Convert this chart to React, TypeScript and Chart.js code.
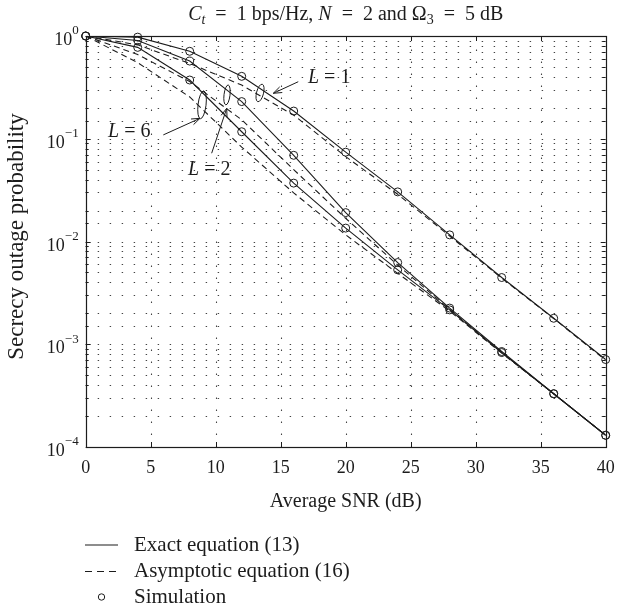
import React, { useEffect, useRef } from "react";
import { Chart, registerables } from "chart.js";

Chart.register(...registerables);

// ---------- data ----------
const snrDb = [0, 4, 8, 12, 16, 20, 24, 28, 32, 36, 40];

const exactL1 = [1.0, 0.975, 0.71, 0.405, 0.186, 0.074, 0.0304, 0.0116, 0.00446, 0.00179, 0.00071];
const exactL2 = [1.0, 0.905, 0.57, 0.23, 0.069, 0.0191, 0.00624, 0.00225, 0.00085, 0.00033, 0.00013];
const exactL6 = [1.0, 0.775, 0.373, 0.117, 0.037, 0.0135, 0.0053, 0.00216, 0.00083, 0.00033, 0.00013];

const asymL1 = [1.0, 0.82, 0.54, 0.333, 0.17, 0.067, 0.0288, 0.0113, 0.0044, 0.00178, 0.0007];
const asymL2 = [1.0, 0.66, 0.36, 0.153, 0.05, 0.0168, 0.0059, 0.00218, 0.00083, 0.00033, 0.00013];
const asymL6 = [1.0, 0.55, 0.255, 0.083, 0.0297, 0.0116, 0.0049, 0.0021, 0.00082, 0.00033, 0.00013];

const simL1 = [1.0, 0.975, 0.71, 0.405, 0.186, 0.074, 0.0304, 0.0116, 0.00446, 0.00179, 0.00071];
const simL2 = [1.0, 0.905, 0.57, 0.23, 0.069, 0.0191, 0.00624, 0.00225, 0.00085, 0.00033, 0.00013];
const simL6 = [1.0, 0.775, 0.373, 0.117, 0.037, 0.0135, 0.0053, 0.00216, 0.00083, 0.00033, 0.00013];

const xTickValues = [0, 5, 10, 15, 20, 25, 30, 35, 40];
const xTickLabels = ["0", "5", "10", "15", "20", "25", "30", "35", "40"];
const yTickExponents = [0, -1, -2, -3, -4];

const legendLabels = ["Exact equation (13)", "Asymptotic equation (16)", "Simulation"];
const xTitle = "Average SNR (dB)";
const yTitle = "Secrecy outage probability";

// annotation labels (data coordinates)
const curveLabels = [
  { text: "1", x: 17.1, y: 0.39, arrowFrom: [16.35, 0.359], arrowTo: [14.43, 0.277], ell: [13.41, 0.279] },
  { text: "6", x: 1.72, y: 0.117, arrowFrom: [5.97, 0.109], arrowTo: [8.79, 0.158], ell: [8.95, 0.214] },
  { text: "2", x: 7.87, y: 0.0497, arrowFrom: [9.69, 0.0723], arrowTo: [10.85, 0.198], ell: [10.87, 0.267] },
];

const FONT = '"Liberation Serif", "Times New Roman", serif';
const INK = "#1c1c1c";

function toXY(xs: number[], ys: number[]) {
  return xs.map((x, i) => ({ x, y: ys[i] }));
}

function isDecade(v: number) {
  const l = Math.log10(v);
  return Math.abs(l - Math.round(l)) < 1e-6;
}

const customPlugin = {
  id: "customDraw",
  beforeDatasetsDraw(chart: any) {
    const { ctx, chartArea: a, scales } = chart;
    const x = scales.x;
    const y = scales.y;
    ctx.save();
    ctx.strokeStyle = "#444";
    ctx.lineWidth = 1.1;
    ctx.setLineDash([1.4, 10.6]);
    for (const t of y.ticks) {
      const py = Math.round(y.getPixelForValue(t.value)) + 0.5;
      if (py <= a.top + 1.5 || py >= a.bottom - 1.5) continue;
      ctx.beginPath();
      ctx.moveTo(a.left, py);
      ctx.lineTo(a.right, py);
      ctx.stroke();
    }
    for (const v of xTickValues) {
      const px = Math.round(x.getPixelForValue(v)) + 0.5;
      if (px <= a.left + 1.5 || px >= a.right - 1.5) continue;
      ctx.beginPath();
      ctx.moveTo(px, a.bottom);
      ctx.lineTo(px, a.top);
      ctx.stroke();
    }
    ctx.restore();
  },
  afterDatasetsDraw(chart: any) {
    const { ctx, chartArea: a, scales } = chart;
    const x = scales.x;
    const y = scales.y;
    ctx.save();
    ctx.setLineDash([]);
    ctx.strokeStyle = INK;
    ctx.fillStyle = INK;

    // axis box
    ctx.lineWidth = 1.2;
    ctx.strokeRect(Math.round(a.left) + 0.5, Math.round(a.top) + 0.5, Math.round(a.right - a.left), Math.round(a.bottom - a.top));

    // inward ticks
    ctx.lineWidth = 1;
    for (const v of xTickValues) {
      const px = Math.round(x.getPixelForValue(v)) + 0.5;
      ctx.beginPath();
      ctx.moveTo(px, a.bottom);
      ctx.lineTo(px, a.bottom - 5);
      ctx.moveTo(px, a.top);
      ctx.lineTo(px, a.top + 5);
      ctx.stroke();
    }
    for (const t of y.ticks) {
      const py = Math.round(y.getPixelForValue(t.value)) + 0.5;
      const len = isDecade(t.value) ? 5 : 3;
      ctx.beginPath();
      ctx.moveTo(a.left, py);
      ctx.lineTo(a.left + len, py);
      ctx.moveTo(a.right, py);
      ctx.lineTo(a.right - len, py);
      ctx.stroke();
    }

    // x tick labels
    ctx.font = `18px ${FONT}`;
    ctx.textAlign = "center";
    ctx.textBaseline = "middle";
    xTickValues.forEach((v, i) => {
      ctx.fillText(xTickLabels[i], x.getPixelForValue(v), a.bottom + 21);
    });

    // y tick labels 10^k
    yTickExponents.forEach((e) => {
      const py = y.getPixelForValue(Math.pow(10, e));
      const expStr = e < 0 ? "\u2212" + String(-e) : String(e);
      ctx.font = `13px ${FONT}`;
      const ew = ctx.measureText(expStr).width;
      ctx.font = `18px ${FONT}`;
      const bw = ctx.measureText("10").width;
      const right = a.left - 7;
      ctx.textAlign = "left";
      ctx.textBaseline = "middle";
      ctx.fillText("10", right - ew - bw, py + 4.5);
      ctx.font = `13px ${FONT}`;
      ctx.fillText(expStr, right - ew, py - 5);
    });

    // axis titles
    ctx.font = `20px ${FONT}`;
    ctx.textAlign = "center";
    ctx.textBaseline = "middle";
    ctx.fillText(xTitle, (a.left + a.right) / 2, a.bottom + 55);
    ctx.save();
    ctx.translate(17, (a.top + a.bottom) / 2 - 5);
    ctx.rotate(-Math.PI / 2);
    ctx.font = `23px ${FONT}`;
    ctx.fillText(yTitle, 0, 0);
    ctx.restore();

    // title with sub-scripts
    const segs = [
      { t: "C", it: true, sub: false },
      { t: "t", it: true, sub: true },
      { t: "  =  1 bps/Hz, ", it: false, sub: false },
      { t: "N", it: true, sub: false },
      { t: "  =  2 and \u03A9", it: false, sub: false },
      { t: "3", it: false, sub: true },
      { t: "  =  5 dB", it: false, sub: false },
    ];
    const fontFor = (s: any) => `${s.it ? "italic " : ""}${s.sub ? 14 : 20}px ${FONT}`;
    let total = 0;
    const widths = segs.map((s) => {
      ctx.font = fontFor(s);
      const w = ctx.measureText(s.t).width;
      total += w;
      return w;
    });
    let cx = (a.left + a.right) / 2 - total / 2;
    ctx.textAlign = "left";
    ctx.textBaseline = "alphabetic";
    const titleBase = 20;
    segs.forEach((s, i) => {
      ctx.font = fontFor(s);
      ctx.fillText(s.t, cx, titleBase + (s.sub ? 4 : 0));
      cx += widths[i];
    });

    // curve annotations
    ctx.lineWidth = 1;
    curveLabels.forEach((c) => {
      const tx = x.getPixelForValue(c.x);
      const ty = y.getPixelForValue(c.y);
      ctx.textBaseline = "middle";
      ctx.textAlign = "left";
      ctx.font = `italic 20px ${FONT}`;
      ctx.fillText("L", tx, ty);
      const lw = ctx.measureText("L").width;
      ctx.font = `20px ${FONT}`;
      ctx.fillText(" = " + c.text, tx + lw, ty);

      const x0 = x.getPixelForValue(c.arrowFrom[0]);
      const y0 = y.getPixelForValue(c.arrowFrom[1]);
      const x1 = x.getPixelForValue(c.arrowTo[0]);
      const y1 = y.getPixelForValue(c.arrowTo[1]);
      ctx.beginPath();
      ctx.moveTo(x0, y0);
      ctx.lineTo(x1, y1);
      const ang = Math.atan2(y1 - y0, x1 - x0);
      const hl = 9;
      const ha = 0.35;
      ctx.moveTo(x1, y1);
      ctx.lineTo(x1 - hl * Math.cos(ang - ha), y1 - hl * Math.sin(ang - ha));
      ctx.moveTo(x1, y1);
      ctx.lineTo(x1 - hl * Math.cos(ang + ha), y1 - hl * Math.sin(ang + ha));
      ctx.stroke();
    });
    // small ellipses grouping curves
    const ellSizes = [
      [3.5, 9, 0.25],
      [4, 14, 0.12],
      [3, 10, 0.12],
    ];
    curveLabels.forEach((c, i) => {
      const ex = x.getPixelForValue(c.ell[0]);
      const ey = y.getPixelForValue(c.ell[1]);
      const [rx, ry, rot] = ellSizes[i];
      ctx.beginPath();
      ctx.ellipse(ex, ey, rx, ry, rot, 0, Math.PI * 2);
      ctx.stroke();
    });

    // legend
    const lx0 = 85;
    const lx1 = 118;
    const ltx = 134;
    const rows = [545, 571.5, 597];
    ctx.lineWidth = 1.1;
    ctx.beginPath();
    ctx.moveTo(lx0, rows[0]);
    ctx.lineTo(lx1, rows[0]);
    ctx.stroke();
    ctx.setLineDash([7, 5]);
    ctx.beginPath();
    ctx.moveTo(lx0, rows[1]);
    ctx.lineTo(lx1, rows[1]);
    ctx.stroke();
    ctx.setLineDash([]);
    ctx.lineWidth = 1;
    ctx.beginPath();
    ctx.arc((lx0 + lx1) / 2, rows[2], 3.2, 0, Math.PI * 2);
    ctx.stroke();
    ctx.font = `21px ${FONT}`;
    ctx.textAlign = "left";
    ctx.textBaseline = "middle";
    legendLabels.forEach((t, i) => ctx.fillText(t, ltx, rows[i]));

    ctx.restore();
  },
};

export default function App() {
  const canvasRef = useRef<HTMLCanvasElement | null>(null);

  useEffect(() => {
    const canvas = canvasRef.current;
    if (!canvas) return;
    const lineDs = (label: string, ys: number[], dashed: boolean) => ({
      label,
      data: toXY(snrDb, ys),
      borderColor: INK,
      borderWidth: 1.1,
      borderDash: dashed ? [6, 4] : [],
      pointRadius: 0,
      fill: false,
      tension: 0,
    });
    const simDs = (label: string, ys: number[]) => ({
      label,
      data: toXY(snrDb, ys),
      showLine: false,
      borderColor: INK,
      backgroundColor: "rgba(0,0,0,0)",
      pointBorderColor: INK,
      pointBackgroundColor: "rgba(0,0,0,0)",
      pointBorderWidth: 1,
      pointRadius: 4,
      pointStyle: "circle",
      clip: false,
    });

    const chart = new Chart(canvas, {
      type: "line",
      data: {
        datasets: [
          lineDs("Exact L=1", exactL1, false),
          lineDs("Exact L=2", exactL2, false),
          lineDs("Exact L=6", exactL6, false),
          lineDs("Asymptotic L=1", asymL1, true),
          lineDs("Asymptotic L=2", asymL2, true),
          lineDs("Asymptotic L=6", asymL6, true),
          simDs("Simulation L=1", simL1),
          simDs("Simulation L=2", simL2),
          simDs("Simulation L=6", simL6),
        ] as any,
      },
      options: {
        responsive: false,
        animation: false,
        events: [],
        layout: { padding: { left: 85.7, top: 36, right: 11.3, bottom: 167 } },
        plugins: {
          legend: { display: false },
          title: { display: false },
          tooltip: { enabled: false },
        },
        scales: {
          x: {
            type: "linear",
            min: 0,
            max: 40,
            ticks: { display: false, stepSize: 5 },
            grid: { display: false, drawTicks: false },
            border: { display: false },
          },
          y: {
            type: "logarithmic",
            min: 1e-4,
            max: 1,
            ticks: { display: false },
            grid: { display: false, drawTicks: false },
            border: { display: false },
          },
        },
      } as any,
      plugins: [customPlugin],
    });
    return () => chart.destroy();
  }, []);

  return (
    <div style={{ position: "fixed", left: 0, top: 0, width: 617, height: 614, background: "#fff" }}>
      <canvas ref={canvasRef} width={617} height={614} style={{ width: 617, height: 614, display: "block" }} />
    </div>
  );
}
